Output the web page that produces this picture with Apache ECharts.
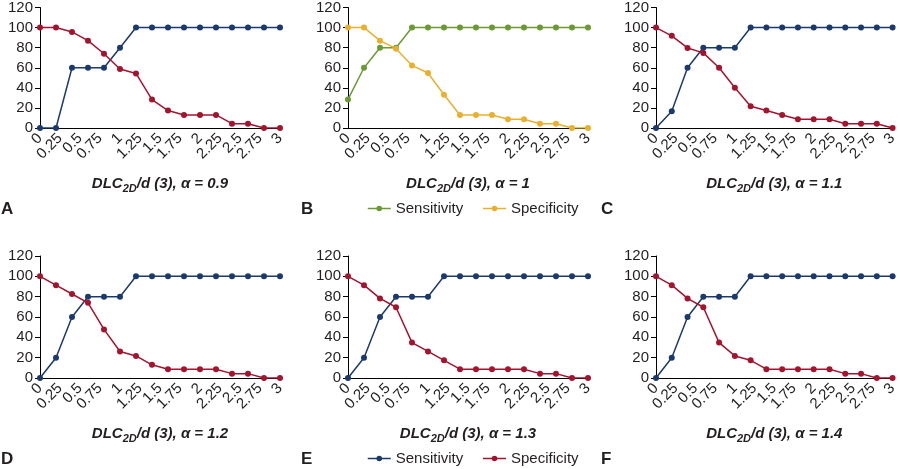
<!DOCTYPE html>
<html>
<head>
<meta charset="utf-8">
<script src="https://cdn.jsdelivr.net/npm/echarts@6/dist/echarts.min.js"></script>
<style>
html,body{margin:0;padding:0;background:#fff;}
#c{width:900px;height:469px;}
</style>
</head>
<body>
<div id="c"></div>
<script>
// x positions of the measured points
var xValues = [0, 0.2, 0.4, 0.6, 0.8, 1.0, 1.2, 1.4, 1.6, 1.8, 2.0, 2.2, 2.4, 2.6, 2.8, 3.0];
// x tick labels (every 0.25)
var xTickLabels = ['0', '0.25', '0.5', '0.75', '1', '1.25', '1.5', '1.75', '2', '2.25', '2.5', '2.75', '3'];

var sensA = [0, 0, 60, 60, 60, 80, 100, 100, 100, 100, 100, 100, 100, 100, 100, 100];
var specA = [100, 100, 95.7, 87, 73.9, 58.7, 54.3, 28.3, 17.4, 13, 13, 13, 4.3, 4.3, 0, 0];

var sensB = [28.5, 60, 80, 80, 100, 100, 100, 100, 100, 100, 100, 100, 100, 100, 100, 100];
var specB = [100, 100, 87, 79, 62.3, 54.8, 33.1, 13, 13, 13, 8.7, 8.7, 4.3, 4.3, 0, 0];

var sensC = [0, 16.7, 60, 80, 80, 80, 100, 100, 100, 100, 100, 100, 100, 100, 100, 100];
var specC = [100, 91.8, 79.7, 74.8, 60, 40, 21.7, 17.4, 13, 8.7, 8.7, 8.7, 4.3, 4.3, 4.3, 0];

var sensD = [0, 20, 60, 80, 80, 80, 100, 100, 100, 100, 100, 100, 100, 100, 100, 100];
var specD = [100, 91.3, 82.6, 73.9, 47.8, 26.1, 21.7, 13, 8.7, 8.7, 8.7, 8.7, 4.3, 4.3, 0, 0];

var sensE = [0, 20, 60, 80, 80, 80, 100, 100, 100, 100, 100, 100, 100, 100, 100, 100];
var specE = [100, 91.3, 78.3, 69.6, 34.8, 26.1, 17.4, 8.7, 8.7, 8.7, 8.7, 8.7, 4.3, 4.3, 0, 0];

var sensF = [0, 20, 60, 80, 80, 80, 100, 100, 100, 100, 100, 100, 100, 100, 100, 100];
var specF = [100, 91.3, 78.3, 69.6, 34.8, 21.7, 17.4, 8.7, 8.7, 8.7, 8.7, 8.7, 4.3, 4.3, 0, 0];

var alphas = ['0.9', '1', '1.1', '1.2', '1.3', '1.4'];
var panelLetters = ['A', 'B', 'C', 'D', 'E', 'F'];
var seriesNames = ['Sensitivity', 'Specificity'];

var BLUE = '#1b3a6b', RED = '#a3142f', GREEN = '#6b9a35', YELLOW = '#e9b02f';
var TXT = '#231f20';
var FONT = '"Liberation Sans", Arial, Helvetica, sans-serif';

var sensAll = [sensA, sensB, sensC, sensD, sensE, sensF];
var specAll = [specA, specB, specC, specD, specE, specF];
var colorsAll = [[BLUE, RED], [GREEN, YELLOW], [BLUE, RED], [BLUE, RED], [BLUE, RED], [BLUE, RED]];

var lefts = [40, 348, 656];
var tops = [6, 256];

function pairs(ys) {
  return xValues.map(function (x, i) { return [x, ys[i]]; });
}

var grids = [], xAxes = [], yAxes = [], series = [], graphics = [];
for (var p = 0; p < 6; p++) {
  var col = p % 3, row = Math.floor(p / 3);
  grids.push({ left: lefts[col], top: tops[row], width: 240, height: 122, containLabel: false });
  // data axis (value): line + title, no labels
  xAxes.push({
    gridIndex: p, type: 'value', min: 0, max: 3, interval: 0.25, position: 'bottom',
    axisLine: { show: true, onZero: false, lineStyle: { color: '#000', width: 1 } },
    axisTick: { show: false },
    splitLine: { show: false },
    axisLabel: { show: false },
    name: '{m|DLC}{s|2D}{m|/d (3), \u03b1 = ' + alphas[p] + '}',
    nameLocation: 'middle', nameGap: 46,
    nameTextStyle: {
      rich: {
        m: { fontSize: 15, fontWeight: 'bold', fontStyle: 'italic', color: TXT, fontFamily: FONT, lineHeight: 20, verticalAlign: 'middle' },
        s: { fontSize: 11, fontWeight: 'bold', fontStyle: 'italic', color: TXT, fontFamily: FONT, lineHeight: 12, verticalAlign: 'bottom' }
      }
    }
  });
  // label axis (category over the same span) so every tick label is shown
  xAxes.push({
    gridIndex: p, type: 'category', data: xTickLabels, boundaryGap: false, position: 'bottom', offset: 0,
    axisLine: { show: false },
    axisTick: { show: false },
    splitLine: { show: false },
    axisLabel: { interval: 0, rotate: 45, fontSize: 15, color: TXT, fontFamily: FONT, margin: 8 }
  });
  yAxes.push({
    gridIndex: p, type: 'value', min: 0, max: 120, interval: 20,
    axisLine: { show: true, lineStyle: { color: '#000', width: 1 } },
    axisTick: { show: true, length: 5, lineStyle: { color: '#000' } },
    splitLine: { show: false },
    axisLabel: { fontSize: 15, color: TXT, fontFamily: FONT, margin: 7, showMinLabel: true, showMaxLabel: true }
  });
  var cs = colorsAll[p];
  [sensAll[p], specAll[p]].forEach(function (arr, k) {
    series.push({
      name: seriesNames[k], type: 'line', xAxisIndex: 2 * p, yAxisIndex: p,
      data: pairs(arr), symbol: 'circle', symbolSize: 6, showSymbol: true,
      lineStyle: { color: cs[k], width: 1.5 },
      itemStyle: { color: cs[k] },
      animation: false, silent: true
    });
  });
  graphics.push({
    type: 'text', left: col * 300 + 1, top: row === 0 ? 201 : 451,
    style: { text: panelLetters[p], font: 'bold 17px ' + FONT, fill: TXT }
  });
}

function legendFor(top, c1, c2) {
  return {
    left: 367, top: top, padding: 0, itemWidth: 23, itemHeight: 7, itemGap: 19,
    textStyle: { fontSize: 15, color: TXT, fontFamily: FONT },
    selectedMode: false,
    data: [
      { name: seriesNames[0], itemStyle: { color: c1 }, lineStyle: { color: c1, width: 1.5 } },
      { name: seriesNames[1], itemStyle: { color: c2 }, lineStyle: { color: c2, width: 1.5 } }
    ]
  };
}

var chart = echarts.init(document.getElementById('c'), null, { renderer: 'canvas' });
chart.setOption({
  animation: false,
  backgroundColor: '#fff',
  grid: grids, xAxis: xAxes, yAxis: yAxes, series: series,
  legend: [legendFor(201, GREEN, YELLOW), legendFor(451, BLUE, RED)],
  graphic: graphics
});
</script>
</body>
</html>
